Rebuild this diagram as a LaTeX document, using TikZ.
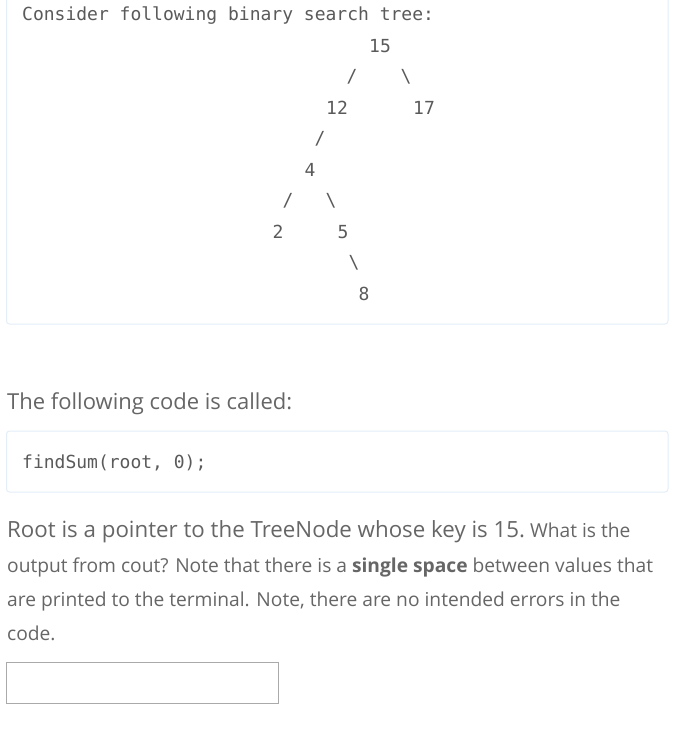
\documentclass[tikz,border=0pt]{standalone}
\usepackage{fontspec}
\setmainfont{Open Sans}
\newfontfamily\codefont{DejaVu Sans Mono}
\definecolor{txt}{HTML}{666666}
\definecolor{codetxt}{HTML}{5A5A5A}
\definecolor{boxline}{HTML}{E3EEF8}
\definecolor{inputline}{HTML}{AAAAAA}
\tikzset{
  code/.style={inner sep=0pt, text=codetxt, font=\codefont\fontsize{18}{21}\selectfont},
  codeline/.style={code, anchor=base west},
  para/.style={inner sep=0pt, anchor=base west, text=txt},
  panel/.style={draw=boxline, line width=1pt, rounded corners=3pt},
}
\begin{document}
\begin{tikzpicture}[x=1pt,y=-1pt]
\useasboundingbox (0,0) rectangle (673,738);
\fill[white] (0,0) rectangle (673,738);
\clip (0,0) rectangle (673,738);
% first panel
\draw[panel] (6.5,-10) rectangle (668,324);
\node[codeline] (head) at (22,21) {Consider following binary search tree:};
\node[code] (n15) at (380,46) {15};
\node[code] (s1) at (352,77) {/};
\node[code] (s2) at (406,77) {\textbackslash};
\node[code] (n12) at (337,108) {12};
\node[code] (n17) at (424,108) {17};
\node[code] (s3) at (320,139) {/};
\node[code] (n4) at (310,170) {4};
\node[code] (s4) at (288,201) {/};
\node[code] (s5) at (331,201) {\textbackslash};
\node[code] (n2) at (278,232) {2};
\node[code] (n5) at (343,232) {5};
\node[code] (s6) at (354,263) {\textbackslash};
\node[code] (n8) at (364,294) {8};
% middle
\node[para, font=\fontsize{22}{26}\selectfont] (called) at (7,409) {The following code is called:};
\draw[panel] (6.5,431) rectangle (668,492);
\node[codeline] (call) at (22,468) {findSum(root, 0);};
% paragraph
\node[para] (l1) at (7,537) {{\fontsize{22.3}{26}\selectfont Root is a pointer to the TreeNode whose key is 15.}{\fontsize{19.2}{23}\selectfont\ What is the}};
\node[para, font=\fontsize{19.2}{23}\selectfont] (l2) at (7,572) {output from cout? Note that there is a \textbf{single space} between values that};
\node[para, font=\fontsize{19.2}{23}\selectfont] (l3) at (7,606) {are printed to the terminal. Note, there are no intended errors in the};
\node[para, font=\fontsize{19.2}{23}\selectfont] (l4) at (7,640) {code.};
% input box
\draw[draw=inputline, line width=1pt] (6.5,662.5) rectangle (278,703);
\end{tikzpicture}
\end{document}
